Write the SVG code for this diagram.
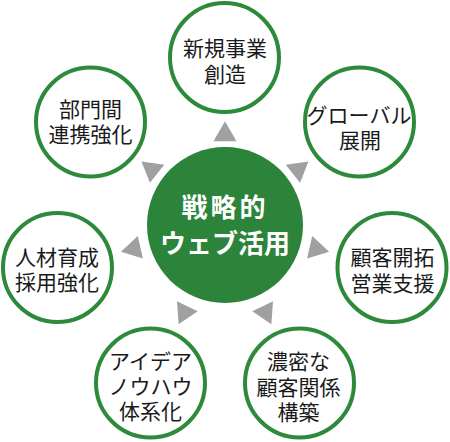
<svg xmlns="http://www.w3.org/2000/svg" xmlns:xlink="http://www.w3.org/1999/xlink" width="450" height="442" viewBox="0 0 450 442">
  <style>
    .ring { fill: #ffffff; stroke: #2e8a3b; stroke-width: 4; }
    .hub { fill: #2b843a; }
    .lbl { font-family: "Noto Sans CJK JP", "Noto Sans", sans-serif; font-size: 21px; fill: #1a1a1a; text-anchor: middle; }
    .hubtxt { font-family: "Noto Sans CJK JP", "Noto Sans", sans-serif; font-size: 26px; font-weight: bold; fill: #ffffff; text-anchor: middle; }
    .tri { fill: #a0a0a0; }
  </style>
  <defs>
    <polygon id="arrow" class="tri" points="0,-13.3 11.5,6.65 -11.5,6.65"/>
  </defs>
  <rect width="450" height="442" fill="#ffffff"/>

  <g id="connectors">
    <use xlink:href="#arrow" href="#arrow" transform="translate(225,228) rotate(0) translate(0,-93.5)"/>
    <use xlink:href="#arrow" href="#arrow" transform="translate(225,228) rotate(51.43) translate(0,-93.5)"/>
    <use xlink:href="#arrow" href="#arrow" transform="translate(225,228) rotate(102.86) translate(0,-93.5)"/>
    <use xlink:href="#arrow" href="#arrow" transform="translate(225,228) rotate(154.29) translate(0,-93.5)"/>
    <use xlink:href="#arrow" href="#arrow" transform="translate(225,228) rotate(205.71) translate(0,-93.5)"/>
    <use xlink:href="#arrow" href="#arrow" transform="translate(225,228) rotate(257.14) translate(0,-93.5)"/>
    <use xlink:href="#arrow" href="#arrow" transform="translate(225,228) rotate(308.57) translate(0,-93.5)"/>
  </g>

  <g id="hub">
    <circle class="hub" cx="225" cy="225" r="78"/>
    <text class="hubtxt" x="225" y="216.5" letter-spacing="3">戦略的</text>
    <text class="hubtxt" x="225" y="253">ウェブ活用</text>
  </g>

  <g id="node-new-business">
    <circle class="ring" cx="224.5" cy="57.5" r="54.5"/>
    <text class="lbl" x="225" y="56">新規事業</text>
    <text class="lbl" x="225" y="82">創造</text>
  </g>

  <g id="node-global">
    <circle class="ring" cx="359.5" cy="122" r="54.5"/>
    <text class="lbl" x="359" y="123">グローバル</text>
    <text class="lbl" x="360" y="148">展開</text>
  </g>

  <g id="node-sales">
    <circle class="ring" cx="392" cy="267.5" r="54.5"/>
    <text class="lbl" x="392.5" y="264.5">顧客開拓</text>
    <text class="lbl" x="392.5" y="291">営業支援</text>
  </g>

  <g id="node-customer">
    <circle class="ring" cx="299.5" cy="383" r="54.5"/>
    <text class="lbl" x="298.5" y="368.5">濃密な</text>
    <text class="lbl" x="298.5" y="394.5">顧客関係</text>
    <text class="lbl" x="298.5" y="420">構築</text>
  </g>

  <g id="node-knowhow">
    <circle class="ring" cx="150.5" cy="383" r="54.5"/>
    <text class="lbl" x="150.5" y="368.5">アイデア</text>
    <text class="lbl" x="150.5" y="393.5">ノウハウ</text>
    <text class="lbl" x="150.5" y="419">体系化</text>
  </g>

  <g id="node-hr">
    <circle class="ring" cx="57.5" cy="267.5" r="54.5"/>
    <text class="lbl" x="57" y="265">人材育成</text>
    <text class="lbl" x="57" y="290">採用強化</text>
  </g>

  <g id="node-collab">
    <circle class="ring" cx="90.5" cy="122" r="54.5"/>
    <text class="lbl" x="90.5" y="117">部門間</text>
    <text class="lbl" x="90.5" y="142">連携強化</text>
  </g>
</svg>
